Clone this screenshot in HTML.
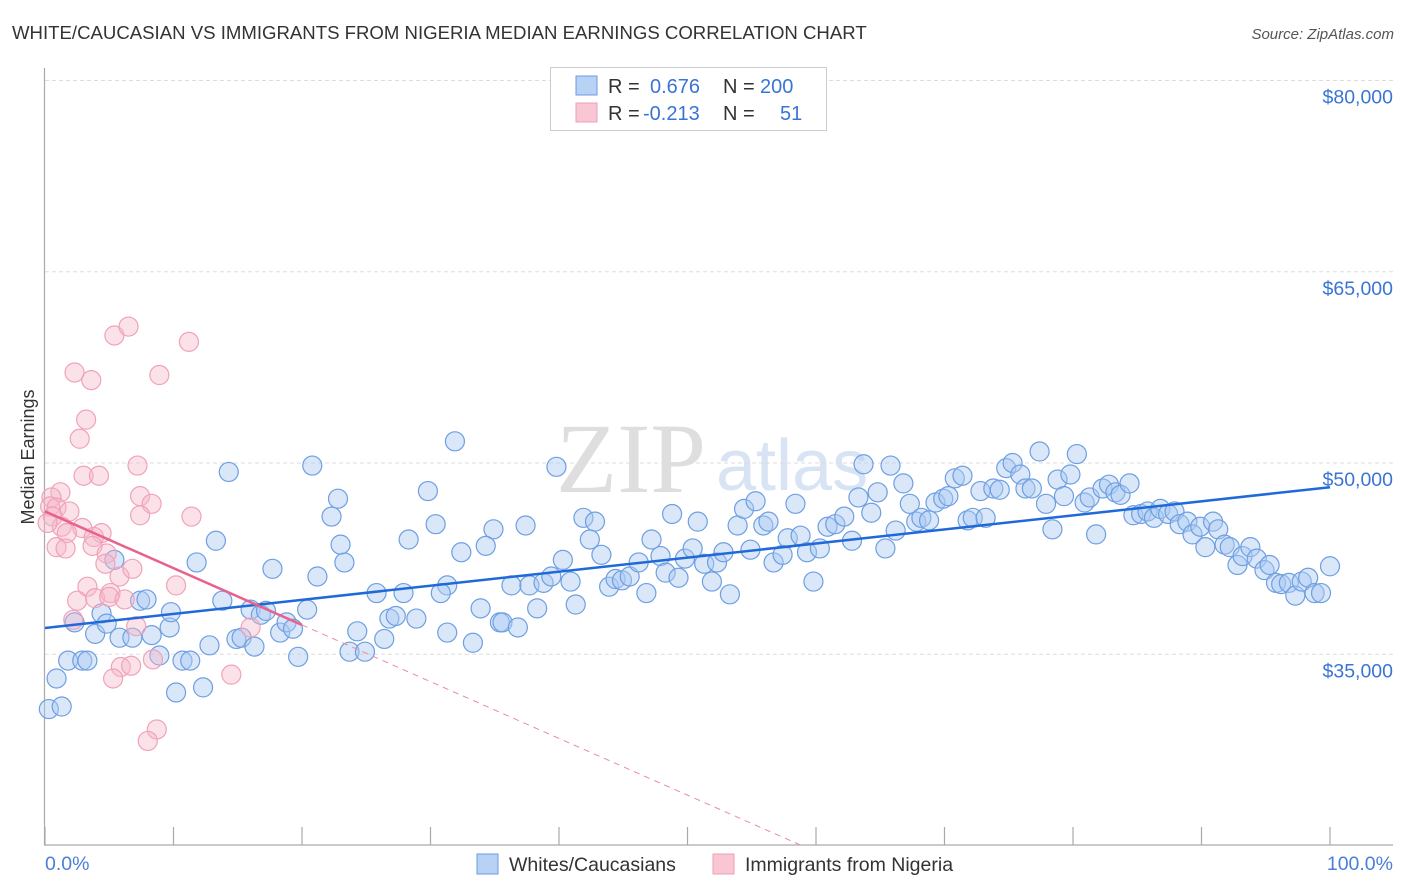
<!DOCTYPE html>
<html><head><meta charset="utf-8">
<style>
body{margin:0;background:#fff;font-family:"Liberation Sans",sans-serif;}
#wrap{position:relative;width:1406px;height:892px;overflow:hidden;}
</style></head>
<body>
<div id="wrap">
<svg id="chart" width="1406" height="892" xmlns="http://www.w3.org/2000/svg">
  <text x="12" y="39" font-size="18.6" fill="#333">WHITE/CAUCASIAN VS IMMIGRANTS FROM NIGERIA MEDIAN EARNINGS CORRELATION CHART</text>
  <text x="1394" y="39" font-size="15" fill="#555" font-style="italic" text-anchor="end">Source: ZipAtlas.com</text>
  <text x="556" y="492" font-family="Liberation Serif,serif" font-size="100" fill="#dedede">ZIP</text>
  <text x="716" y="490" font-size="72" fill="#d8e4f4">atlas</text>
  <g id="grid"></g>
  <g id="axes"></g>
  <g id="marks"></g>
  <text transform="translate(34,457) rotate(-90)" font-size="18" fill="#333" text-anchor="middle">Median Earnings</text>
  <text x="45" y="870" font-size="19.5" fill="#4a7fd6">0.0%</text>
  <text x="1393" y="870" font-size="19.5" fill="#4a7fd6" text-anchor="end">100.0%</text>
  <g>
    <rect x="550.5" y="67.5" width="276" height="63" fill="#fff" stroke="#ccc"/>
    <rect x="576" y="76" width="21" height="19" fill="#b8d2f5" stroke="#6a9be0"/>
    <rect x="576" y="103" width="21" height="19" fill="#f9c6d4" stroke="#ef9fb7"/>
    <text x="608" y="93" font-size="20" fill="#333">R = </text>
    <text x="650" y="93" font-size="20" fill="#3a74d4">0.676</text>
    <text x="723" y="93" font-size="20" fill="#333">N = </text>
    <text x="760" y="93" font-size="20" fill="#3a74d4">200</text>
    <text x="608" y="120" font-size="20" fill="#333">R = </text>
    <text x="643" y="120" font-size="20" fill="#3a74d4">-0.213</text>
    <text x="723" y="120" font-size="20" fill="#333">N = </text>
    <text x="780" y="120" font-size="20" fill="#3a74d4">51</text>
  </g>
  <g>
    <rect x="477" y="854" width="21" height="20" fill="#b8d2f5" stroke="#6a9be0"/>
    <text x="509" y="871" font-size="19.5" fill="#333">Whites/Caucasians</text>
    <rect x="713" y="854" width="21" height="20" fill="#f9c6d4" stroke="#ef9fb7"/>
    <text x="745" y="871" font-size="19.5" fill="#333">Immigrants from Nigeria</text>
  </g>
</svg>
</div>
<script>
const yTickValues = [35, 50, 65, 80];
const yTickLabels = ["$35,000", "$50,000", "$65,000", "$80,000"];
const xTickValues = [0,10,20,30,40,50,60,70,80,90,100];
const blueX = [0.3,1.3,0.9,1.8,2.9,3.3,2.3,3.9,4.4,5.4,4.8,5.8,6.8,7.4,7.9,8.3,8.9,9.7,9.8,10.2,10.7,11.3,11.8,12.3,12.8,13.3,13.8,14.3,14.9,15.3,16.0,16.3,16.8,17.2,17.7,18.3,18.8,19.3,19.7,20.4,
20.8,22.8,22.3,23.3,21.2,23.0,25.8,27.9,24.3,23.7,24.9,26.4,26.8,27.3,28.9,28.3,29.8,30.4,31.3,30.8,31.3,32.4,31.9,33.3,34.9,34.3,33.9,35.4,35.6,36.8,36.3,37.4,37.7,38.3,38.8,39.4,39.8,40.3,40.9,41.3,41.9,42.8,42.4,43.3,43.9,44.4,44.9,45.5,46.2,46.8,47.2,47.9,48.3,48.8,49.3,49.8,50.4,50.8,51.3,51.9,52.3,52.8,53.3,53.9,54.4,55.3,54.9,55.9,56.3,56.7,57.4,57.8,58.4,58.8,59.3,59.8,
60.3,60.9,61.5,62.2,62.8,63.3,63.7,64.3,64.8,65.8,65.4,66.2,66.8,67.3,67.8,68.2,68.8,69.3,69.9,70.3,70.8,71.4,71.8,72.2,72.8,73.2,73.8,74.3,74.8,75.3,75.9,76.3,76.8,77.4,77.9,78.4,78.8,79.3,79.8,80.3,80.9,81.3,81.8,82.3,82.8,83.3,83.7,84.4,84.7,85.3,85.8,86.3,86.8,87.4,87.9,88.3,88.9,89.3,89.9,90.3,90.9,91.3,91.8,92.2,92.8,93.2,93.8,94.3,94.9,95.3,95.8,96.2,96.8,97.3,97.8,98.3,98.8,99.3,100];
const blueY = [30.7,30.9,33.1,34.5,34.5,34.5,37.5,36.6,38.2,42.4,37.4,36.3,36.3,39.2,39.3,36.5,34.9,37.1,38.3,32.0,34.5,34.5,42.2,32.4,35.7,43.9,39.2,49.3,36.2,36.3,38.5,35.6,38.1,38.4,41.7,36.7,37.5,37.0,34.8,38.5,
49.8,47.2,45.8,42.2,41.1,43.6,39.8,39.8,36.8,35.2,35.2,36.2,37.8,38.0,37.8,44.0,47.8,45.2,40.4,39.8,36.7,43.0,51.7,35.9,44.8,43.5,38.6,37.5,37.5,37.1,40.4,45.1,40.4,38.6,40.6,41.1,49.7,42.4,40.7,38.9,45.7,45.4,44.0,42.8,40.3,40.9,40.8,41.1,42.2,39.8,44.0,42.7,41.4,46.0,41.0,42.5,43.3,45.4,42.1,40.7,42.2,43.0,39.7,45.1,46.4,47.0,43.2,45.1,45.4,42.2,42.8,44.1,46.8,44.3,43.0,40.7,
43.3,45.0,45.2,45.8,43.9,47.3,49.9,46.1,47.7,49.8,43.3,44.7,48.4,46.8,45.4,45.7,45.5,46.9,47.2,47.4,48.8,49.0,45.5,45.7,47.8,45.7,48.0,47.9,49.6,50.0,49.1,48.0,48.0,50.9,46.8,44.8,48.7,47.4,49.1,50.7,46.9,47.3,44.4,48.0,48.3,47.7,47.5,48.4,45.9,46.0,46.2,45.7,46.4,46.0,46.2,45.2,45.4,44.4,45.0,43.4,45.4,44.8,43.6,43.4,42.0,42.7,43.4,42.5,41.6,42.0,40.6,40.5,40.6,39.6,40.7,41.0,39.8,39.8,41.9];
const pinkX = [5.4,6.5,11.2,2.3,3.6,8.9,3.2,2.7,3.0,4.2,7.2,1.2,0.5,7.4,8.3,7.4,11.4,0.4,0.9,1.9,0.6,1.3,2.9,1.7,4.4,3.8,0.9,1.6,3.7,4.8,4.7,5.8,6.8,10.2,3.3,2.5,3.9,5.1,5.0,6.2,2.2,7.1,16.0,5.9,6.7,5.3,8.4,14.5,8.7,8.0,0.2];
const pinkY = [60.0,60.7,59.5,57.1,56.5,56.9,53.4,51.9,49.0,49.0,49.8,47.7,47.3,47.4,46.8,45.9,45.8,46.6,46.5,46.2,45.8,45.0,44.9,44.5,44.5,44.2,43.4,43.3,43.5,42.9,42.1,41.1,41.7,40.4,40.3,39.2,39.4,39.8,39.5,39.3,37.7,37.2,37.1,34.0,34.1,33.1,34.6,33.4,29.1,28.2,45.3];
const blueTrend = [37.06, 48.1];
const pinkTrend = [46.2, -0.445];
const pinkSolidEnd = 20;

const NS = "http://www.w3.org/2000/svg";
const X0 = 45, X1 = 1330, PLOT_R = 1393, PLOT_B = 845, PLOT_T = 68;
function xs(v){ return X0 + (X1 - X0) * v / 100; }
function ys(v){ return 80.5 + (80 - v) * 12.75; }
function mk(tag, attrs, parent){ const e = document.createElementNS(NS, tag); for (const k in attrs) e.setAttribute(k, attrs[k]); parent.appendChild(e); return e; }

const grid = document.getElementById('grid');
const axes = document.getElementById('axes');
const marks = document.getElementById('marks');
const svg = document.getElementById('chart');

yTickValues.forEach((v, i) => {
  const l = mk('line', {x1: X0, x2: PLOT_R, y1: ys(v), y2: ys(v), stroke: '#ddd', 'stroke-dasharray': '4,3'}, grid);
  
  
  const t = mk('text', {x: 1393, y: ys(v) + 23, 'font-size': 19.5, fill: '#3a74d4', 'text-anchor': 'end'}, svg);
  t.textContent = yTickLabels[i];
  
  
});
const ya = mk('line', {x1: 44.5, x2: 44.5, y1: PLOT_T, y2: PLOT_B, stroke: '#aaa', 'stroke-width': 1.2}, axes);


const xa = mk('line', {x1: 44, x2: PLOT_R, y1: PLOT_B, y2: PLOT_B, stroke: '#aaa', 'stroke-width': 1.2}, axes);


xTickValues.forEach(v => {
  const t = mk('line', {x1: xs(v), x2: xs(v), y1: PLOT_B - 18, y2: PLOT_B, stroke: '#aaa', 'stroke-width': 1.2}, axes);
  
  
});

blueX.forEach((x, i) => {
  const c = mk('circle', {cx: xs(x), cy: ys(blueY[i]), r: 9.5, fill: 'rgba(170,202,242,0.45)', stroke: '#6e9fe2', 'stroke-width': 1.2}, marks);
  
  
});
pinkX.forEach((x, i) => {
  const c = mk('circle', {cx: xs(x), cy: ys(pinkY[i]), r: 9.5, fill: 'rgba(246,182,200,0.4)', stroke: '#f0a2ba', 'stroke-width': 1.2}, marks);
  
  
});

const bt = mk('line', {x1: xs(0), y1: ys(blueTrend[0]), x2: xs(100), y2: ys(blueTrend[1]), stroke: '#1f6ad8', 'stroke-width': 2.5}, marks);


const pSolid = mk('line', {x1: xs(0), y1: ys(pinkTrend[0]), x2: xs(pinkSolidEnd), y2: ys(pinkTrend[0] + pinkTrend[1] * pinkSolidEnd), stroke: '#e8628c', 'stroke-width': 2.5}, marks);


const xEnd = (20 - pinkTrend[0]) / pinkTrend[1];
const pDash = mk('line', {x1: xs(pinkSolidEnd), y1: ys(pinkTrend[0] + pinkTrend[1] * pinkSolidEnd), x2: xs(xEnd), y2: ys(20), stroke: '#eb8aa8', 'stroke-width': 1, 'stroke-dasharray': '6,5'}, marks);


</script>
</body></html>
